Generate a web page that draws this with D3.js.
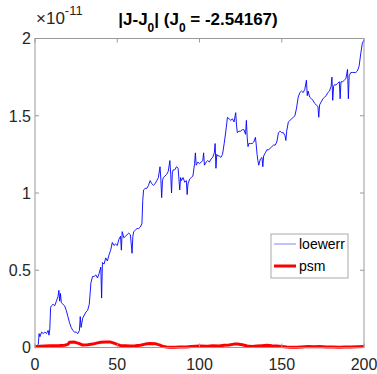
<!DOCTYPE html>
<html><head><meta charset="utf-8">
<script src="https://cdn.jsdelivr.net/npm/d3@7"></script>
<style>body{margin:0;background:#fff}svg{display:block}text{font-family:"Liberation Sans",Arial,sans-serif}</style>
</head><body>
<svg id="c" width="377" height="374"></svg>
<script>
// loewerr series (t, value in units of 1e-11)
const loeT = [0,1,2,2.5,3,4,5,6,7,8,8.5,9,9.5,10,11,12,13,14,14.5,15,15.5,16,17,18,19,20,21,22,23,24,25,26,27,27.5,28,29,30,31,32,33,34,35,36,37,38,39,40,40.5,41,42,43,44,45,46,47,48,49,50,51,52,52.5,53,54,55,56,57,58,59,59.5,60,61,62,63,64,65,65.5,66,67,68,69,70,71,72,73,74,75,76,76.5,77,77.5,78,79,80,81,82,82.5,83,83.5,84,85,86,87,88,88.5,89,90,91,92,92.5,93,94,95,96,97,97.5,98,99,100,101,102,102.5,103,104,105,106,107,108,109,109.5,110,110.5,111,112,113,114,115,116,117,118,119,120,121,122,122.5,123,124,125,126,127,128,128.5,129,129.5,130,131,132,133,134,134.5,135,135.5,136,137,138,138.5,139,140,141,142,143,144,145,146,147,148,149,150,151,152,152.5,153,154,155,156,157,158,159,160,161,162,163,164,165,165.5,166,167,168,169,170,171,172,172.5,173,174,175,176,177,178,179,180,180.5,181,181.5,182,183,184,185,185.5,186,187,188,189,190,190.5,191,192,193,194,195,196,197,198,199,200];
const loeV = [0.00,0.01,0.02,0.09,0.07,0.10,0.09,0.10,0.09,0.11,0.08,0.12,0.26,0.27,0.28,0.27,0.30,0.33,0.37,0.30,0.35,0.29,0.28,0.27,0.24,0.20,0.16,0.13,0.11,0.10,0.10,0.09,0.11,0.20,0.13,0.19,0.21,0.23,0.24,0.28,0.42,0.46,0.46,0.47,0.45,0.48,0.52,0.32,0.55,0.54,0.58,0.56,0.60,0.63,0.68,0.66,0.67,0.66,0.70,0.72,0.63,0.75,0.71,0.72,0.73,0.74,0.73,0.61,0.72,0.75,0.76,0.77,0.77,0.78,0.80,0.95,1.02,1.03,1.03,1.05,1.08,1.06,1.05,1.06,1.08,1.10,1.17,1.09,0.97,1.08,1.10,1.11,1.12,1.14,1.21,1.12,1.00,1.13,1.15,1.15,1.17,1.16,1.02,1.10,1.08,1.10,1.07,1.08,0.99,1.06,1.09,1.10,1.11,1.19,1.26,1.18,1.20,1.19,1.20,1.21,1.26,1.18,1.20,1.21,1.20,1.22,1.23,1.26,1.32,1.16,1.25,1.24,1.24,1.23,1.25,1.32,1.40,1.49,1.48,1.47,1.48,1.46,1.52,1.44,1.39,1.40,1.40,1.41,1.41,1.38,1.47,1.36,1.30,1.32,1.32,1.32,1.33,1.36,1.31,1.25,1.21,1.18,1.22,1.23,1.17,1.24,1.26,1.28,1.28,1.29,1.30,1.31,1.31,1.33,1.39,1.40,1.39,1.39,1.37,1.34,1.40,1.46,1.47,1.48,1.49,1.50,1.55,1.62,1.65,1.66,1.65,1.67,1.73,1.63,1.66,1.62,1.61,1.60,1.58,1.57,1.56,1.49,1.57,1.59,1.61,1.62,1.63,1.65,1.66,1.69,1.75,1.60,1.69,1.70,1.70,1.71,1.72,1.61,1.72,1.72,1.73,1.74,1.80,1.61,1.76,1.78,1.78,1.78,1.78,1.79,1.82,1.90,1.97,1.99];
// psm series
const psmT = [0,3,6,9,12,15,18,20,21,24,27,29,32,35,38,40,43,46,48,50,52,55,58,61,64,67,70,73,76,78,80,82,85,88,92,95,100,105,108,112,115,118,121,123,126,129,132,135,138,141,144,147,150,153,156,159,162,166,170,173,177,181,185,188,192,196,200];
const psmV = [0.005,0.008,0.010,0.011,0.012,0.013,0.015,0.020,0.034,0.035,0.025,0.016,0.018,0.022,0.030,0.034,0.036,0.035,0.028,0.020,0.012,0.011,0.010,0.012,0.015,0.022,0.026,0.025,0.015,0.006,0.003,0.001,0.002,0.004,0.003,0.006,0.010,0.008,0.012,0.010,0.014,0.016,0.022,0.023,0.018,0.010,0.006,0.010,0.012,0.014,0.011,0.009,0.007,0.004,0.002,0.001,0.004,0.006,0.005,0.006,0.004,0.003,0.001,0.003,0.004,0.005,0.006];
const xTicks = [0,50,100,150,200];
const yTicks = [0,0.5,1,1.5,2];
const yTickLabels = ["0","0.5","1","1.5","2"];
const seriesNames = ["loewerr","psm"];
const seriesColors = ["#0000ff","#ff0000"];

const svg = d3.select("#c");
const L=35,R=364,T=38.5,B=347.5;
const x = d3.scaleLinear().domain([0,200]).range([L,R]);
const y = d3.scaleLinear().domain([0,2]).range([B,T]);
const axCol="#262626", boxCol="#9a9a9a";

// data lines
const line = d3.line().x(d=>x(d[0])).y(d=>y(d[1]));
svg.append("path").datum(loeT.map((t,i)=>[t,loeV[i]]))
  .attr("d",line).attr("fill","none").attr("stroke",seriesColors[0]).attr("stroke-width",0.9);
svg.append("path").datum(psmT.map((t,i)=>[t,psmV[i]]))
  .attr("d",line).attr("fill","none").attr("stroke",seriesColors[1]).attr("stroke-width",3).attr("stroke-linejoin","round");

// box and ticks
const g = svg.append("g");
g.append("rect").attr("x",L).attr("y",T).attr("width",R-L).attr("height",B-T)
  .attr("fill","none").attr("stroke",boxCol).attr("stroke-width",1);
const tl=4;
xTicks.forEach(v=>{
  g.append("line").attr("x1",x(v)).attr("x2",x(v)).attr("y1",B).attr("y2",B-tl).attr("stroke",boxCol);
  g.append("line").attr("x1",x(v)).attr("x2",x(v)).attr("y1",T).attr("y2",T+tl).attr("stroke",boxCol);
  g.append("text").attr("x",x(v)).attr("y",370).attr("text-anchor","middle")
    .attr("font-size",16).attr("fill",axCol).text(v);
});
yTicks.forEach((v,i)=>{
  g.append("line").attr("x1",L).attr("x2",L+tl).attr("y1",y(v)).attr("y2",y(v)).attr("stroke",boxCol);
  g.append("line").attr("x1",R).attr("x2",R-tl).attr("y1",y(v)).attr("y2",y(v)).attr("stroke",boxCol);
  g.append("text").attr("x",31).attr("y",y(v)+5.8).attr("text-anchor","end")
    .attr("font-size",16).attr("fill",axCol).text(yTickLabels[i]);
});

// exponent
const ex = svg.append("text").attr("x",36).attr("y",24).attr("font-size",17).attr("fill",axCol);
ex.append("tspan").text("\u00d710");
ex.append("tspan").attr("font-size",13).attr("dy",-9).text("-11");

// title
const tt = svg.append("text").attr("x",198).attr("y",25).attr("text-anchor","middle")
  .attr("font-size",17).attr("font-weight","bold").attr("fill","#000");
tt.append("tspan").text("|J-J");
tt.append("tspan").attr("font-size",12).attr("dy",7).text("0");
tt.append("tspan").attr("dy",-7).text("| (J");
tt.append("tspan").attr("font-size",12).attr("dy",7).text("0");
tt.append("tspan").attr("dy",-7).text(" = -2.54167)");

// legend
const lg = svg.append("g");
lg.append("rect").attr("x",271).attr("y",234).attr("width",77).attr("height",44)
  .attr("fill","#fff").attr("stroke","#aaaaaa").attr("stroke-width",1);
const ly=[244,266], lw=[0.8,3];
seriesNames.forEach((n,i)=>{
  lg.append("line").attr("x1",274).attr("x2",296).attr("y1",ly[i]).attr("y2",ly[i])
    .attr("stroke",seriesColors[i]).attr("stroke-width",lw[i]).attr("opacity",i===0?0.6:1);
  lg.append("text").attr("x",299).attr("y",ly[i]+5).attr("font-size",14).attr("fill","#000").text(n);
});
</script>
</body></html>
